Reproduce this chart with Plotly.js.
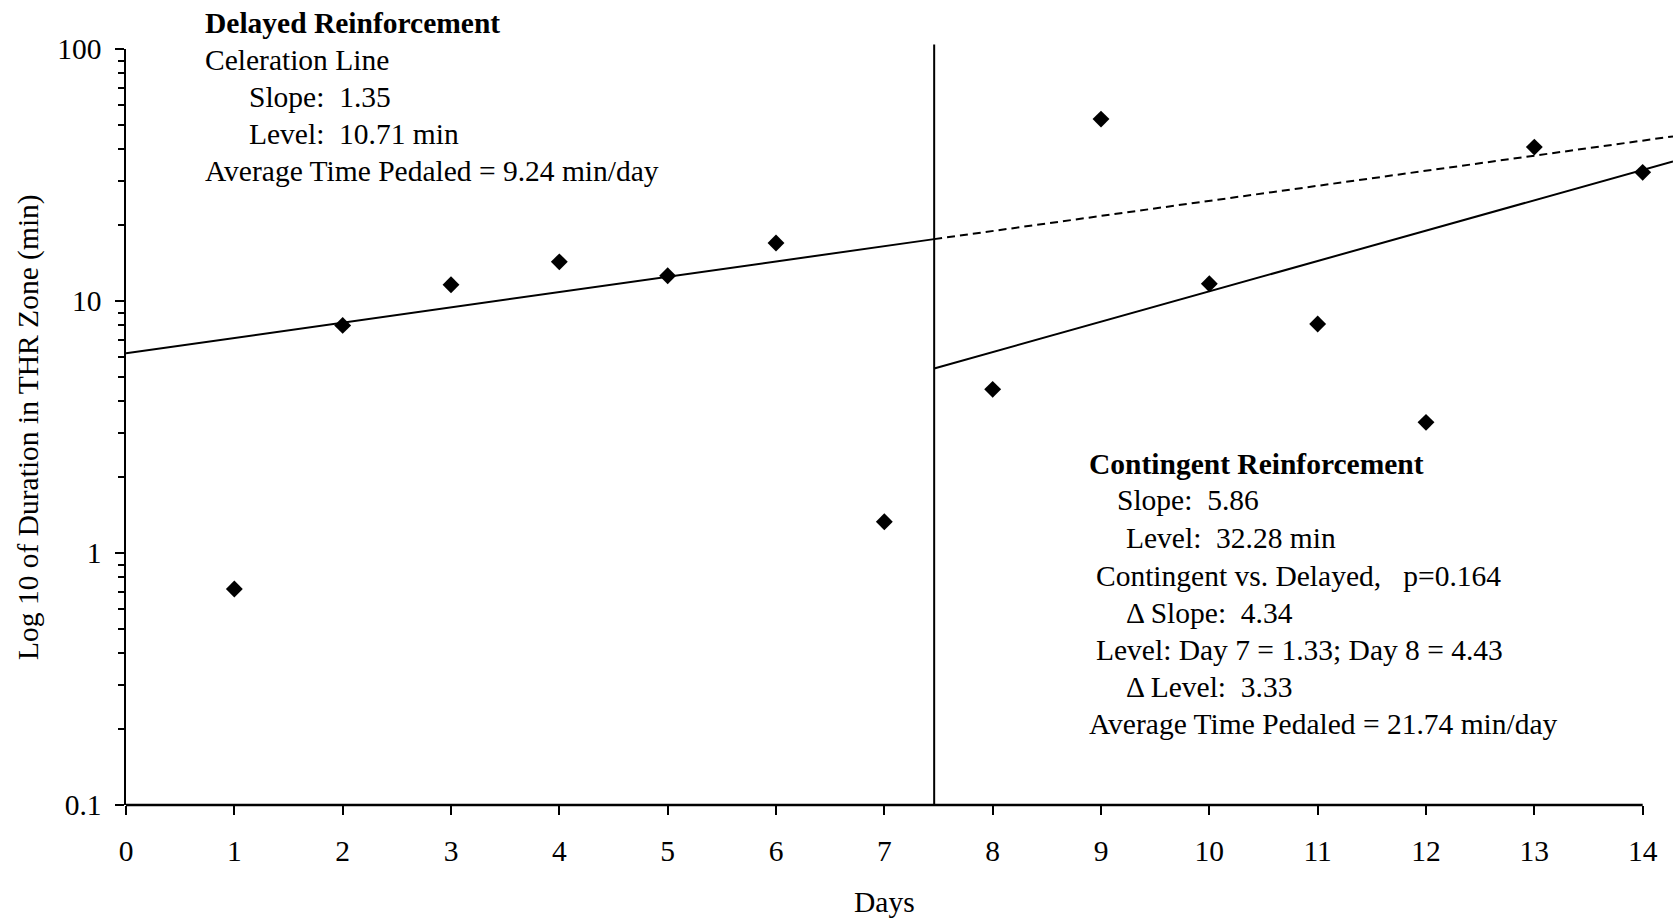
<!DOCTYPE html>
<html>
<head>
<meta charset="utf-8">
<script src="https://cdn.plot.ly/plotly-3.0.1.min.js"></script>
<style>html,body{margin:0;padding:0;background:#fff;}#chart{width:1673px;height:921px;}</style>
</head>
<body>
<div id="chart"></div>
<script>
// ---- data ----
const days = [1, 2, 3, 4, 5, 6, 7, 8, 9, 10, 11, 12, 13, 14];
const durationMin = [0.72, 8.0, 11.6, 14.3, 12.6, 17.0, 1.33, 4.46, 52.7, 11.7, 8.1, 3.3, 40.8, 32.4];

const phaseChangeDay = 7.46;
const delayedFitDays = [0, phaseChangeDay];
const delayedFitValues = [6.2, 17.6];
const projectionDays = [phaseChangeDay, 14.28];
const projectionValues = [17.6, 45.0];
const contingentFitDays = [phaseChangeDay, 14.28];
const contingentFitValues = [5.4, 35.8];

const xTickVals = [0, 1, 2, 3, 4, 5, 6, 7, 8, 9, 10, 11, 12, 13, 14];
const yTickVals = [0.1, 1, 10, 100];
const yTickText = ['0.1', '1', '10', '100'];

const delayedNotes = [
  {text: '<b>Delayed Reinforcement</b>', px: 203, py: 23},
  {text: 'Celeration Line', px: 203, py: 60},
  {text: 'Slope:\u00a0\u00a01.35', px: 247, py: 97},
  {text: 'Level:\u00a0\u00a010.71 min', px: 247, py: 134},
  {text: 'Average Time Pedaled = 9.24 min/day', px: 203, py: 171}
];
const contingentNotes = [
  {text: '<b>Contingent Reinforcement</b>', px: 1087, py: 464},
  {text: 'Slope:\u00a0\u00a05.86', px: 1115, py: 500},
  {text: 'Level:\u00a0\u00a032.28 min', px: 1124, py: 538},
  {text: 'Contingent vs. Delayed,\u00a0\u00a0\u00a0p=0.164', px: 1094, py: 576},
  {text: '\u0394 Slope:\u00a0\u00a04.34', px: 1124, py: 613},
  {text: 'Level: Day 7 = 1.33; Day 8 = 4.43', px: 1094, py: 650},
  {text: '\u0394 Level:\u00a0\u00a03.33', px: 1124, py: 687},
  {text: 'Average Time Pedaled = 21.74 min/day', px: 1087, py: 724}
];

// ---- layout geometry ----
const W = 1673, H = 921;
const M = {l: 126, r: 0, t: 49, b: 116};
const plotW = W - M.l - M.r, plotH = H - M.t - M.b;
const toPX = px => (px - M.l) / plotW;
const toPY = py => (H - M.b - py) / plotH;

const FONT = '"Liberation Serif", "Times New Roman", serif';
const FS = 29.5;

const minorVals = [];
[0.1, 1, 10].forEach(d => { for (let k = 2; k <= 9; k++) minorVals.push(d * k); });

const traces = [
  {x: delayedFitDays, y: delayedFitValues, mode: 'lines', line: {color: '#000', width: 2}, hoverinfo: 'skip'},
  {x: projectionDays, y: projectionValues, mode: 'lines', line: {color: '#000', width: 2, dash: '8px,5px'}, hoverinfo: 'skip'},
  {x: contingentFitDays, y: contingentFitValues, mode: 'lines', line: {color: '#000', width: 2}, hoverinfo: 'skip'},
  {x: days, y: durationMin, mode: 'markers', marker: {symbol: 'diamond', size: 13, color: '#000'}, cliponaxis: false}
];

const annotations = [];
delayedNotes.concat(contingentNotes).forEach(n => {
  annotations.push({text: n.text, xref: 'paper', yref: 'paper', x: toPX(n.px), y: toPY(n.py),
    xanchor: 'left', yanchor: 'middle', showarrow: false, font: {family: FONT, size: FS, color: '#000'}});
});
annotations.push({text: 'Days', xref: 'x', yref: 'paper', x: 7, y: toPY(902), xanchor: 'center', yanchor: 'middle',
  showarrow: false, font: {family: FONT, size: FS, color: '#000'}});
annotations.push({text: 'Log 10 of Duration in THR Zone (min)', xref: 'paper', yref: 'paper', x: toPX(28), y: 0.5,
  xanchor: 'center', yanchor: 'middle', textangle: -90, showarrow: false, font: {family: FONT, size: FS, color: '#000'}});

const layout = {
  width: W, height: H,
  margin: M,
  paper_bgcolor: '#fff', plot_bgcolor: '#fff',
  showlegend: false,
  font: {family: FONT, size: FS, color: '#000'},
  xaxis: {
    range: [0, 14.28], tickmode: 'array', tickvals: xTickVals,
    ticks: 'outside', ticklen: 9, tickwidth: 2, tickcolor: '#000',
    showline: false, showgrid: false, zeroline: false,
    ticklabelstandoff: 11,
    tickfont: {family: FONT, size: FS, color: '#000'}
  },
  yaxis: {
    type: 'log', range: [-1, 2], tickmode: 'array', tickvals: yTickVals, ticktext: yTickText,
    ticks: 'outside', ticklen: 9, tickwidth: 2, tickcolor: '#000',
    showline: true, linewidth: 2.5, linecolor: '#000', showgrid: false, zeroline: false,
    ticklabelstandoff: 7,
    tickfont: {family: FONT, size: FS, color: '#000'},
    minor: {tickmode: 'array', tickvals: minorVals, ticks: 'outside', ticklen: 6, tickwidth: 2, tickcolor: '#000', showgrid: false}
  },
  shapes: [
    {type: 'line', xref: 'x', yref: 'paper', x0: 0, x1: 14, y0: 0, y1: 0, line: {color: '#000', width: 2.5}},
    {type: 'line', xref: 'x', yref: 'paper', x0: phaseChangeDay, x1: phaseChangeDay, y0: 0, y1: 1.006, line: {color: '#000', width: 2}}
  ],
  annotations: annotations
};

Plotly.newPlot('chart', traces, layout, {displayModeBar: false, staticPlot: true});
</script>
</body>
</html>
